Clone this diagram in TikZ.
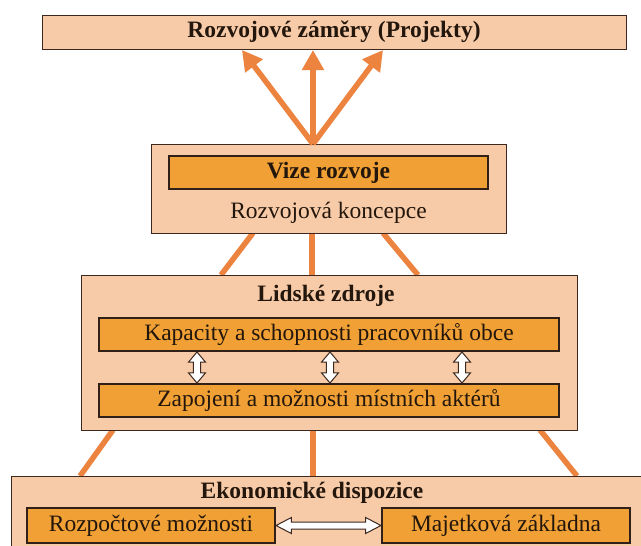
\documentclass[tikz,border=0pt]{standalone}
\usepackage{fontspec}
\setmainfont{Liberation Serif}
\usetikzlibrary{arrows.meta,shapes.arrows}
\definecolor{peach}{RGB}{248,203,168}
\definecolor{inner}{RGB}{240,160,52}
\definecolor{ln}{RGB}{236,132,64}
\definecolor{edge}{RGB}{60,40,30}
\definecolor{txt}{RGB}{35,22,12}
\tikzset{
  outerbox/.style={draw=edge, line width=1pt, fill=peach, rectangle, inner sep=0pt},
  innerbox/.style={draw=edge!80!black, line width=1.6pt, fill=inner, rectangle, inner sep=0pt, text=txt},
  lbl/.style={text=txt, inner sep=0pt},
  bold/.style={font=\fontsize{23.5}{27}\selectfont\bfseries},
  conn/.style={draw=ln, line width=5.5pt},
  upar/.style={conn, -{Triangle[length=20pt,width=21pt]}},
  dblv/.style={double arrow, draw=edge, fill=white, line width=1pt, inner sep=3.2pt, minimum height=31pt, minimum width=16pt, double arrow head extend=4.8pt, double arrow tip angle=80, rotate=90},
  dblh/.style={double arrow, draw=edge, fill=white, line width=1pt, inner sep=3pt, minimum height=105pt, minimum width=15pt, double arrow head extend=4.5pt, double arrow tip angle=55},
}
\begin{document}
\begin{tikzpicture}[x=1pt,y=-1pt,font=\fontsize{23.5}{27}\selectfont]
\clip (0,0) rectangle (641,546);
\fill[white] (0,0) rectangle (641,546);
% connector points
\coordinate (apex) at (313,144);
\coordinate (t1) at (242,50);
\coordinate (t2) at (313,50);
\coordinate (t3) at (383,50);
\coordinate (v1) at (253,233);
\coordinate (v2) at (312,233);
\coordinate (v3) at (383,233);
\coordinate (l1) at (221,275);
\coordinate (l2) at (312,275);
\coordinate (l3) at (418,275);
\coordinate (m1) at (113,430);
\coordinate (m2) at (313,430);
\coordinate (m3) at (540,430);
\coordinate (e1) at (80,476);
\coordinate (e2) at (313,476);
\coordinate (e3) at (577,476);
% connectors (behind boxes)
\draw[conn] (v1) -- (l1);
\draw[conn] (v2) -- (l2);
\draw[conn] (v3) -- (l3);
\draw[conn] (m1) -- (e1);
\draw[conn] (m2) -- (e2);
\draw[conn] (m3) -- (e3);
% top box
\node[outerbox, minimum width=584pt, minimum height=34pt, text=txt, bold] (proj) at (334,32) {Rozvojové záměry (Projekty)};
% vize
\node[outerbox, minimum width=355pt, minimum height=89pt] (vizeouter) at (328.5,188.5) {};
\node[innerbox, minimum width=319pt, minimum height=33pt, bold] (vize) at (328.5,172.5) {Vize rozvoje};
\node[lbl] (konc) at (328.5,213) {Rozvojová koncepce};
% lidske
\node[outerbox, minimum width=496pt, minimum height=155pt] (lidske) at (329,352.5) {};
\node[lbl, bold] (lidsketitle) at (326,296) {Lidské zdroje};
\node[innerbox, minimum width=460pt, minimum height=33pt] (kap) at (329,334.5) {Kapacity a schopnosti pracovníků obce};
\node[innerbox, minimum width=460pt, minimum height=33pt] (zap) at (329,400.5) {Zapojení a možnosti místních aktérů};
\node[dblv] (d1) at (197,367.5) {};
\node[dblv] (d2) at (330,367.5) {};
\node[dblv] (d3) at (462,367.5) {};
% ekonomicke
\node[outerbox, minimum width=660pt, minimum height=100pt] (eko) at (341,526) {};
\node[lbl, bold] (ekotitle) at (312,493) {Ekonomické dispozice};
\node[innerbox, minimum width=248pt, minimum height=35pt] (rozp) at (151,525.5) {Rozpočtové možnosti};
\node[innerbox, minimum width=248pt, minimum height=35pt] (maj) at (506,525.5) {Majetková základna};
\node[dblh] (dh) at (328.5,525.5) {};
% arrows to projects
\draw[upar] (apex) -- (t1);
\draw[upar] (apex) -- (t2);
\draw[upar] (apex) -- (t3);
\end{tikzpicture}
\end{document}
